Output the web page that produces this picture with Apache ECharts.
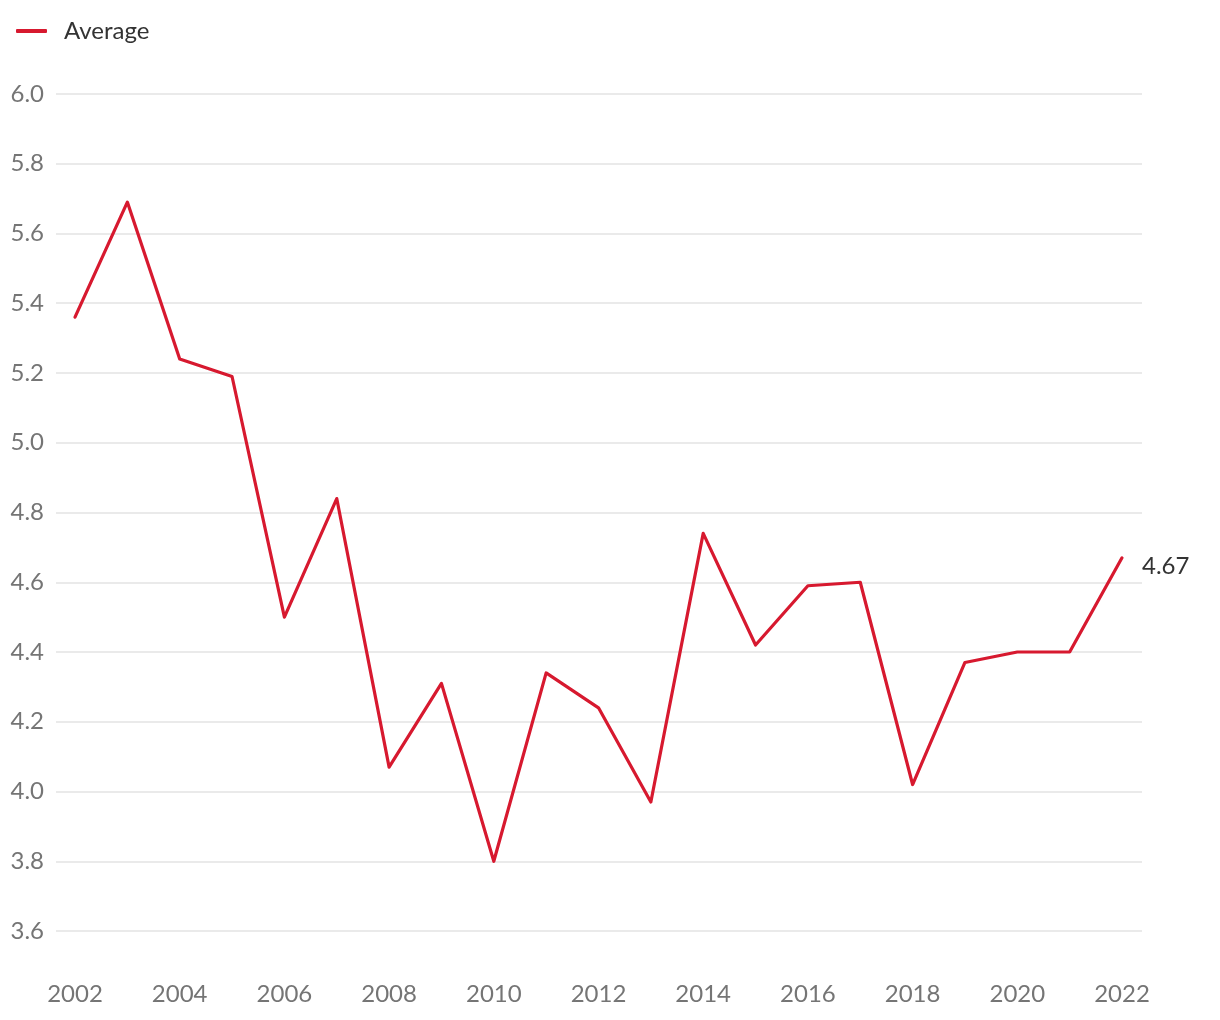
<!DOCTYPE html>
<html>
<head>
<meta charset="utf-8">
<script src="https://cdn.jsdelivr.net/npm/echarts@6/dist/echarts.min.js"></script>
<style>html,body{margin:0;padding:0;background:#fff}#c{width:1220px;height:1020px}</style>
</head>
<body>
<div id="c"></div>
<script>
const years = [2002,2003,2004,2005,2006,2007,2008,2009,2010,2011,2012,2013,2014,2015,2016,2017,2018,2019,2020,2021,2022];
const averageValues = [5.36,5.69,5.24,5.19,4.50,4.84,4.07,4.31,3.80,4.34,4.24,3.97,4.74,4.42,4.59,4.60,4.02,4.37,4.40,4.40,4.67];
const xTickLabels = [2002,2004,2006,2008,2010,2012,2014,2016,2018,2020,2022];
const seriesName = 'Average';

const chart = echarts.init(document.getElementById('c'));
const fontFamily = 'Lato, "Open Sans", sans-serif';
chart.setOption({
  animation: false,
  textStyle: { fontFamily },
  legend: {
    left: 11, top: 14,
    icon: 'roundRect', itemWidth: 31, itemHeight: 4, itemGap: 20,
    textStyle: { fontSize: 24, color: '#333', fontFamily, padding: [0,0,0,12] },
    data: [seriesName]
  },
  grid: { left: 56, right: 78, top: 94, bottom: 89 },
  xAxis: {
    type: 'value', min: 2001.637, max: 2022.382,
    axisLine: { show: false }, axisTick: { show: false },
    splitLine: { show: false },
    axisLabel: { customValues: xTickLabels, margin: 51, fontSize: 24, color: '#757575', fontFamily, formatter: v => String(v) }
  },
  yAxis: {
    type: 'value', min: 3.6, max: 6.0, interval: 0.2,
    axisLine: { show: false }, axisTick: { show: false },
    splitLine: { lineStyle: { color: '#e3e3e3', width: 1.5 } },
    axisLabel: { margin: 12, fontSize: 24, color: '#757575', fontFamily, formatter: v => v.toFixed(1) }
  },
  series: [{
    name: seriesName, type: 'line',
    data: years.map((y, i) => [y, averageValues[i]]),
    showSymbol: false, symbol: 'none',
    lineStyle: { color: '#d7192f', width: 3.2, cap: 'round', join: 'round' },
    itemStyle: { color: '#d7192f' },
    endLabel: { show: true, distance: 20, offset: [0, 8], fontSize: 24, color: '#333', fontFamily, formatter: p => p.value[1].toFixed(2) }
  }]
});
</script>
</body>
</html>
